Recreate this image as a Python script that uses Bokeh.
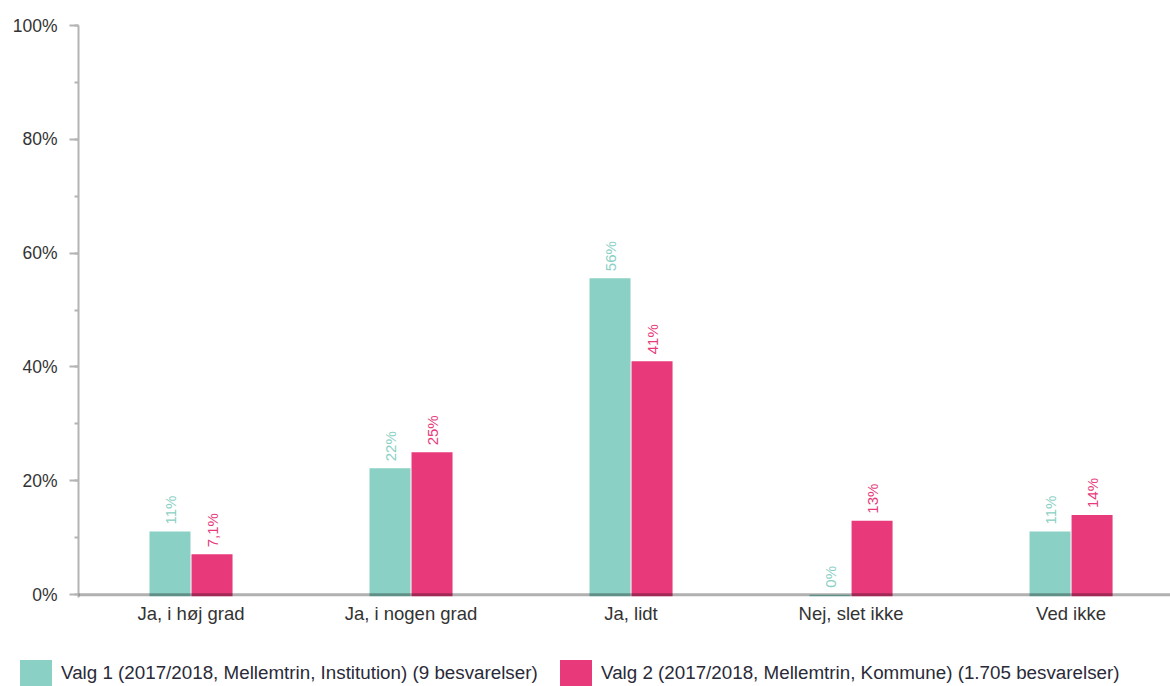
import math
from bokeh.plotting import figure
from bokeh.layouts import column
from bokeh.models import (ColumnDataSource, Range1d, SingleIntervalTicker, FixedTicker,
                          PrintfTickFormatter, Span, Div)
from bokeh.core.properties import value
from bokeh.embed import file_html
from bokeh.resources import INLINE

categories = ["Ja, i høj grad", "Ja, i nogen grad", "Ja, lidt", "Nej, slet ikke", "Ved ikke"]
valg1 = [11.1, 22.2, 55.6, 0.0, 11.1]
valg1_labels = ["11%", "22%", "56%", "0%", "11%"]
valg2 = [7.1, 25.0, 41.0, 13.0, 14.0]
valg2_labels = ["7,1%", "25%", "41%", "13%", "14%"]
series_names = ["Valg 1 (2017/2018, Mellemtrin, Institution) (9 besvarelser)",
                "Valg 2 (2017/2018, Mellemtrin, Kommune) (1.705 besvarelser)"]

TEAL = "#8AD0C4"
PINK = "#E83A7A"
FONT = "Liberation Sans"
OFF = 0.0955
BW = 0.1864
BASE = -0.27

centers = [i + 0.5 for i in range(len(categories))]
src = ColumnDataSource(dict(
    x1=[c - OFF for c in centers], x2=[c + OFF for c in centers],
    v1=valg1, v2=valg2, l1=valg1_labels, l2=valg2_labels))

p = figure(width=1170, height=640, x_range=Range1d(-0.0114, 4.952),
           y_range=Range1d(-0.5, 100), output_backend="svg", toolbar_location=None,
           min_border_left=78, min_border_right=0, min_border_top=25, min_border_bottom=43)
p.outline_line_color = None
p.grid.visible = False

p.vbar(x="x1", top="v1", bottom=BASE, width=BW, source=src, fill_color=TEAL, line_color=None)
p.vbar(x="x2", top="v2", bottom=BASE, width=BW, source=src, fill_color=PINK, line_color=None)

p.text(x="x1", y="v1", text="l1", source=src, angle=math.pi / 2,
       text_align="left", text_baseline="middle", y_offset=-7, text_color=TEAL,
       text_font=value(FONT), text_font_size="15px")
p.text(x="x2", y="v2", text="l2", source=src, angle=math.pi / 2,
       text_align="left", text_baseline="middle", y_offset=-7, text_color=PINK,
       text_font=value(FONT), text_font_size="15px")

p.add_layout(Span(location=0, dimension="width", line_color="black", line_alpha=0.31, line_width=3))

# y axis
ya = p.yaxis[0]
ya.ticker = SingleIntervalTicker(interval=20, num_minor_ticks=2)
ya.formatter = PrintfTickFormatter(format="%d%%")
ya.axis_line_color = "#b4b4b4"
ya.axis_line_width = 2
ya.major_tick_line_color = "#b4b4b4"
ya.major_tick_line_width = 2
ya.major_tick_out = 9
ya.major_tick_in = 0
ya.minor_tick_line_color = "#b4b4b4"
ya.minor_tick_line_width = 2
ya.minor_tick_out = 4
ya.minor_tick_in = 0
ya.major_label_standoff = 12
ya.major_label_text_font = FONT
ya.major_label_text_font_size = "17.5px"
ya.major_label_text_color = "#333333"

# x axis
xa = p.xaxis[0]
xa.ticker = FixedTicker(ticks=centers)
xa.major_label_overrides = {c: cat for c, cat in zip(centers, categories)}
xa.axis_line_color = None
xa.major_tick_line_color = None
xa.minor_tick_line_color = None
xa.major_tick_out = 0
xa.major_tick_in = 0
xa.major_label_standoff = 5
xa.major_label_text_font = FONT
xa.major_label_text_font_size = "18.5px"
xa.major_label_text_color = "#333333"

# legend (HTML row under the chart)
def legend_item(left, color, label):
    return (f'<span style="position:absolute;left:{left}px;top:20px;width:32px;height:26px;'
            f'background:{color};"></span>'
            f'<span style="position:absolute;left:{left + 41}px;top:20px;height:26px;'
            f'line-height:26px;white-space:nowrap;">{label}</span>')

legend_html = ('<div style="position:relative;width:1170px;height:46px;'
               f'font-family:\'{FONT}\';font-size:18.8px;color:#2a2a38;">'
               + legend_item(20, TEAL, series_names[0])
               + legend_item(560, PINK, series_names[1])
               + '</div>')
legend = Div(text=legend_html, width=1170, height=46, margin=(0, 0, 0, 0))

layout = column(p, legend, spacing=0)
html = file_html(layout, INLINE)
html = html.replace("<body>", '<body style="margin:0">', 1)
open("out.html", "w").write(html)
